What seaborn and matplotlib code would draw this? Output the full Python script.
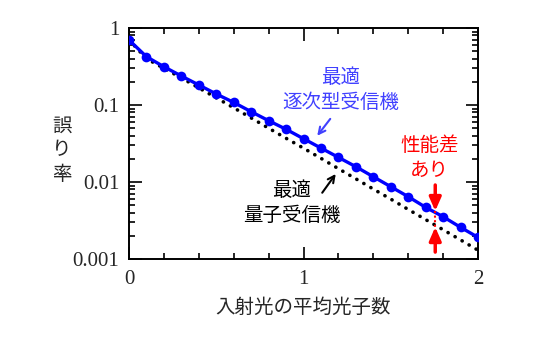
import numpy as np
import pandas as pd
import matplotlib
matplotlib.use("Agg")
import matplotlib.pyplot as plt
import matplotlib.ticker as mticker
import seaborn as sns

# Data
photons = [0.0, 0.1, 0.2, 0.3, 0.4, 0.5, 0.6, 0.7, 0.8, 0.9, 1.0,
           1.1, 1.2, 1.3, 1.4, 1.5, 1.6, 1.7, 1.8, 1.9, 2.0]
successive_err = [0.698, 0.424, 0.314, 0.238, 0.182, 0.139, 0.108, 0.0819,
                  0.0626, 0.0484, 0.0365, 0.0276, 0.0209, 0.0158, 0.0117,
                  0.00869, 0.00645, 0.00469, 0.00354, 0.00258, 0.00191]
quantum_err = [0.70, 0.40, 0.30, 0.225, 0.167, 0.124, 0.092, 0.068, 0.050,
               0.037, 0.0275, 0.0203, 0.0149, 0.0110, 0.0081, 0.0060,
               0.0044, 0.00325, 0.0024, 0.00177, 0.00130]
y_ticks = [0.001, 0.01, 0.1, 1]
y_tick_labels = ["0.001", "0.01", "0.1", "1"]
x_ticks = [0, 1, 2]
x_tick_labels = ["0", "1", "2"]
gap_x = 1.755
gap_upper = 0.0042
gap_lower = 0.0026

sns.set_style("ticks")
plt.rcParams["font.family"] = ["Noto Sans CJK JP", "DejaVu Sans"]

df_s = pd.DataFrame({"x": photons, "y": successive_err})
df_q = pd.DataFrame({"x": photons, "y": quantum_err})

fig = plt.figure(figsize=(5.51, 3.37), dpi=100)
ax = fig.add_axes([129/551, 1 - 259/337, (478-129)/551, (259-28)/337])

sns.lineplot(data=df_q, x="x", y="y", ax=ax, color="black", lw=2.6,
             linestyle=(0, (0.05, 2.2)), dash_capstyle="round", zorder=2)
sns.lineplot(data=df_s, x="x", y="y", ax=ax, color="#0000FF", lw=2.4,
             marker="o", markersize=7, markeredgewidth=0, zorder=3)
ax.lines[0].set_dash_capstyle("round")

ax.set_yscale("log")
ax.set_xlim(0, 2)
ax.set_ylim(0.001, 1)

serif = "Liberation Serif"
ax.set_xticks(x_ticks)
ax.set_xticklabels(x_tick_labels, fontfamily=serif, fontsize=15)
ax.xaxis.set_minor_locator(mticker.MultipleLocator(0.2))
ax.set_yticks(y_ticks)
ax.set_yticklabels(y_tick_labels, fontfamily=serif, fontsize=15)
ax.yaxis.set_minor_locator(mticker.LogLocator(base=10, subs=np.arange(2, 10)))
ax.yaxis.set_minor_formatter(mticker.NullFormatter())

ax.tick_params(which="both", direction="in", top=True, right=True,
               color="black", width=1.2)
ax.tick_params(which="major", length=9)
ax.tick_params(which="minor", length=4.5)
ax.tick_params(axis="x", which="major", pad=8)
ax.tick_params(axis="y", which="major", pad=7)
for s in ax.spines.values():
    s.set_linewidth(1.4)
    s.set_color("black")

ax.set_xlabel("入射光の平均光子数", fontsize=14, labelpad=6)
ax.set_ylabel("誤\nり\n率", rotation=0, fontsize=14, va="center",
              ha="center", linespacing=1.2)
ax.yaxis.set_label_coords(-0.192, 0.472)

# annotations
ax.text(0.607, 0.732, "最適\n逐次型受信機", transform=ax.transAxes,
        ha="center", va="center", color="#4040FF", fontsize=14, linespacing=1.2)
ax.annotate("", xy=(1.069, 0.0373), xytext=(1.163, 0.0705),
            arrowprops=dict(arrowstyle="->", color="#4040FF", lw=1.5,
                            mutation_scale=12))
ax.text(0.467, 0.242, "最適\n量子受信機", transform=ax.transAxes,
        ha="center", va="center", color="black", fontsize=14, linespacing=1.2)
ax.annotate("", xy=(1.194, 0.0136), xytext=(1.098, 0.00678),
            arrowprops=dict(arrowstyle="->", color="black", lw=1.5,
                            mutation_scale=12))
ax.text(0.862, 0.437, "性能差\nあり", transform=ax.transAxes,
        ha="center", va="center", color="#FF0000", fontsize=14, linespacing=1.2)
ax.annotate("", xy=(gap_x, gap_upper), xytext=(gap_x, 0.00914),
            arrowprops=dict(arrowstyle="-|>,head_length=0.5,head_width=0.22",
                            color="#FF0000", lw=2.5,
                            mutation_scale=16, shrinkA=0, shrinkB=0))
ax.annotate("", xy=(gap_x, gap_lower), xytext=(gap_x, 0.00123),
            arrowprops=dict(arrowstyle="-|>,head_length=0.5,head_width=0.22",
                            color="#FF0000", lw=2.5,
                            mutation_scale=16, shrinkA=0, shrinkB=0))
ax.plot([gap_x, gap_x], [gap_upper, gap_lower], color="#FF0000", lw=1.5,
        linestyle=(0, (1, 1.2)), zorder=4)

fig.savefig("out.png", dpi=100)
